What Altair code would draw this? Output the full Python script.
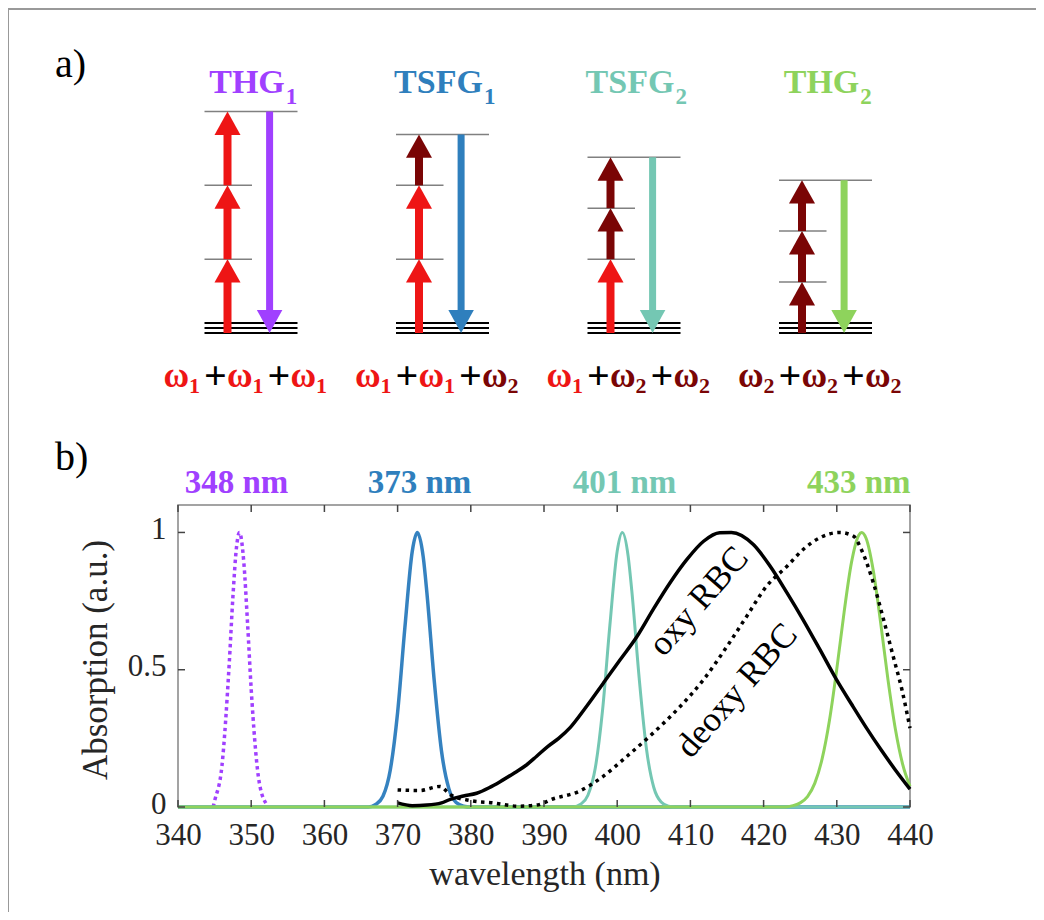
import altair as alt
import pandas as pd

SERIF = "Liberation Serif"
PURPLE = "#a040ff"
BLUE = "#2f7fbd"
TEAL = "#74c7b3"
GREEN = "#8ed35c"
RED = "#ee1515"
DARKRED = "#7a0505"
LEVELGRAY = "#808080"
TXT = "#262626"

# ---------------- panel a: energy diagrams ----------------
proc_names = ["THG", "TSFG", "TSFG", "THG"]
proc_subs = ["1", "1", "2", "2"]
proc_colors = [PURPLE, BLUE, TEAL, GREEN]
proc_photons = [["1", "1", "1"], ["1", "1", "2"], ["1", "2", "2"], ["2", "2", "2"]]
photon_energy = {"1": 1.0, "2": 0.69}
photon_color = {"1": RED, "2": DARKRED}

# ---------------- panel b: spectra ----------------
purple_wl = [344.8, 345, 346, 347, 347.5, 348, 348.4, 349, 349.5, 350, 351, 352]
purple_a = [0.0, 0.022, 0.149, 0.523, 0.765, 0.948, 1.0, 0.888, 0.67, 0.429, 0.107, 0.014]

blue_wl = [340, 366, 367, 368, 369, 370, 371, 372, 372.7, 373.5, 374, 375, 376, 377, 378, 379, 380, 440]
blue_a = [0, 0, 0.009, 0.039, 0.135, 0.344, 0.655, 0.931, 1.0, 0.911, 0.781, 0.461, 0.203, 0.067, 0.016, 0.003, 0, 0]

teal_wl = [340, 394, 395, 396, 397, 398, 399, 400, 400.7, 401.5, 402, 403, 404, 405, 406, 407, 408, 440]
teal_a = [0, 0, 0.01, 0.043, 0.141, 0.353, 0.662, 0.932, 1.0, 0.913, 0.786, 0.47, 0.211, 0.071, 0.018, 0.003, 0, 0]

green_wl = [340, 423, 424, 425, 426, 427, 428, 429, 430, 431, 432, 433, 433.4, 434, 435, 436, 437, 438, 439, 440]
green_a = [0, 0, 0.005, 0.015, 0.038, 0.087, 0.176, 0.316, 0.503, 0.71, 0.89, 0.99, 1.0, 0.979, 0.859, 0.669, 0.462, 0.284, 0.155, 0.075]

oxy_wl = [370, 372, 374, 376, 377.2, 379, 380.8, 382.5, 384, 386, 387.6, 389, 390.5, 392, 393.6, 395.8,
          398.1, 400.4, 402.7, 404.9, 407.2, 409.5, 411.8, 414, 415.6, 418.6, 420.9, 423.2, 425.4,
          427.7, 430, 432, 434, 436, 438, 440]
oxy_a = [0.015, 0.005, 0.007, 0.015, 0.028, 0.04, 0.05, 0.07, 0.092, 0.125, 0.153, 0.185, 0.22, 0.25,
         0.29, 0.366, 0.451, 0.536, 0.621, 0.719, 0.816, 0.901, 0.968, 0.999, 1.0, 0.956, 0.877, 0.78,
         0.682, 0.573, 0.462, 0.375, 0.29, 0.21, 0.135, 0.065]

deoxy_wl = [370, 373, 375.8, 377.2, 380, 383, 386.5, 389, 391.3, 394.7, 398, 401.3, 404.9, 408.6, 411.8,
            415, 417.7, 420.4, 423.2, 425.4, 427.7, 430.4, 432.3, 433.4, 435, 436.4, 437.7, 438.9, 440]
deoxy_a = [0.062, 0.06, 0.075, 0.045, 0.023, 0.015, 0.003, 0.007, 0.03, 0.056, 0.11, 0.184, 0.269, 0.366,
           0.464, 0.585, 0.695, 0.804, 0.877, 0.938, 0.981, 1.0, 0.986, 0.935, 0.816, 0.682, 0.549, 0.427, 0.287]

peak_wl = [348, 373, 401, 433]
peak_labels = ["348 nm", "373 nm", "401 nm", "433 nm"]

curve_labels = ["oxy RBC", "deoxy RBC"]
curve_label_wl = [411.1, 416.3]
curve_label_a = [0.75, 0.425]

x_ticks = [340, 350, 360, 370, 380, 390, 400, 410, 420, 430, 440]
y_ticks = [0, 0.5, 1]

# ---------------- build panel a tables ----------------
up_rows, mid_rows, top_rows, down_rows = [], [], [], []
for k, ph in enumerate(proc_photons):
    e = 0.0
    for i, p in enumerate(ph):
        lo = e
        e = e + photon_energy[p]
        up_rows.append(dict(col=k, lo=lo, hi=e, c=photon_color[p]))
        if i < 2:
            mid_rows.append(dict(col=k, level=e))
    top_rows.append(dict(col=k, level=e))
    down_rows.append(dict(col=k, lo=0.0, hi=e, c=proc_colors[k]))
up_df = pd.DataFrame(up_rows)
mid_df = pd.DataFrame(mid_rows)
top_df = pd.DataFrame(top_rows)
ground_df = pd.DataFrame(dict(col=[0, 1, 2, 3], level=[0.0] * 4))
down_df = pd.DataFrame(down_rows)
title_df = pd.DataFrame(dict(col=[0, 1, 2, 3], name=proc_names, sub=proc_subs, c=proc_colors))

XA = alt.Scale(domain=[0, 3], range=[73, 647.5], nice=False, zero=False)
YA = alt.Scale(domain=[0, 3], range=[-172, -393.5], nice=False, zero=False)
xa = alt.X("col:Q", scale=XA, axis=None)
CN = alt.Color("c:N", scale=None)

UP_PATH = "M0,-0.9L1,0.9L-1,0.9Z"
DOWN_PATH = "M0,0.9L1,-0.9L-1,-0.9Z"
UPX = -23.5
DOWNX = 18.6

layers_a = []
# level lines
layers_a.append(alt.Chart(mid_df).mark_rule(color=LEVELGRAY, strokeWidth=1.5, xOffset=-46.5, x2Offset=1)
                .encode(x=xa, x2="col:Q", y=alt.Y("level:Q", scale=YA, axis=None)))
layers_a.append(alt.Chart(top_df).mark_rule(color=LEVELGRAY, strokeWidth=1.5, xOffset=-46.5, x2Offset=46.5)
                .encode(x=xa, x2="col:Q", y=alt.Y("level:Q", scale=YA, axis=None)))
for off in [0, -5, -10]:
    layers_a.append(alt.Chart(ground_df).mark_rule(color="black", strokeWidth=2, xOffset=-46.5,
                                                   x2Offset=46.5, yOffset=off)
                    .encode(x=xa, x2="col:Q", y=alt.Y("level:Q", scale=YA, axis=None)))
# up arrows (photons)
layers_a.append(alt.Chart(up_df).mark_rule(strokeWidth=8, xOffset=UPX, y2Offset=12)
                .encode(x=xa, y=alt.Y("lo:Q", scale=YA, axis=None), y2="hi:Q", color=CN))
layers_a.append(alt.Chart(up_df).mark_point(shape=UP_PATH, size=676, filled=True, opacity=1,
                                            strokeWidth=0, xOffset=UPX, yOffset=11.7)
                .encode(x=xa, y=alt.Y("hi:Q", scale=YA, axis=None), color=CN))
# down arrows (emission)
layers_a.append(alt.Chart(down_df).mark_rule(strokeWidth=7, xOffset=DOWNX, y2Offset=-12)
                .encode(x=xa, y=alt.Y("hi:Q", scale=YA, axis=None), y2="lo:Q", color=CN))
layers_a.append(alt.Chart(down_df).mark_point(shape=DOWN_PATH, size=650, filled=True, opacity=1,
                                              strokeWidth=0, xOffset=DOWNX, yOffset=-11.5)
                .encode(x=xa, y=alt.Y("lo:Q", scale=YA, axis=None), color=CN))
# process titles
layers_a.append(alt.Chart(title_df).mark_text(font=SERIF, fontSize=34, fontWeight="bold", dx=-4,
                                              align="center", baseline="alphabetic")
                .encode(x=xa, y=alt.value(-412), text="name:N", color=CN))
TITLE_HALF_W = {"THG": 37.8, "TSFG": 44.4}
for nm, hw in TITLE_HALF_W.items():
    layers_a.append(alt.Chart(title_df[title_df.name == nm]).mark_text(
        font=SERIF, fontSize=23, fontWeight="bold", dx=-4 + hw + 1, align="left", baseline="alphabetic")
        .encode(x=xa, y=alt.value(-401), text="sub:N", color=CN))
# formulas  w_i + w_j + w_k
OMEGA_DX = [-74.7, -11.2, 52.3]
SUB_DX = [-56.5, 7.0, 70.5]
PLUS_DX = [-35.5, 28.0]
for i in range(3):
    tdf = pd.DataFrame(dict(col=[0, 1, 2, 3],
                            sub=[proc_photons[k][i] for k in range(4)],
                            c=[photon_color[proc_photons[k][i]] for k in range(4)]))
    tdf["w"] = "ω"
    layers_a.append(alt.Chart(tdf).mark_text(font=SERIF, fontSize=35, fontWeight="bold", dx=OMEGA_DX[i],
                                             align="center", baseline="alphabetic")
                    .encode(x=xa, y=alt.value(-118), text="w:N", color=CN))
    layers_a.append(alt.Chart(tdf).mark_text(font=SERIF, fontSize=22, fontWeight="bold", dx=SUB_DX[i],
                                             align="center", baseline="alphabetic")
                    .encode(x=xa, y=alt.value(-112), text="sub:N", color=CN))
    if i < 2:
        pdf = pd.DataFrame(dict(col=[0, 1, 2, 3], t=["+"] * 4))
        layers_a.append(alt.Chart(pdf).mark_text(font=SERIF, fontSize=40, fontWeight="bold", dx=PLUS_DX[i],
                                                 align="center", baseline="alphabetic", color="black")
                        .encode(x=xa, y=alt.value(-116), text="t:N"))

panel_a = alt.layer(*layers_a)

# ---------------- panel b ----------------
XB = alt.Scale(domain=[340, 440], nice=False, zero=False)
YB = alt.Scale(domain=[0, 1.1], nice=False, zero=False)
AXX = alt.Axis(values=x_ticks, title=None, ticks=False, tickSize=0, domain=False, grid=False,
               labelFont=SERIF, labelFontSize=31, labelColor=TXT, labelPadding=13, labelFlush=False)
AXY = alt.Axis(values=y_ticks, format="~g", title=None, ticks=False, tickSize=0, domain=False, grid=False,
               labelFont=SERIF, labelFontSize=31, labelColor=TXT, labelPadding=12, labelOffset=-3)
xb = alt.X("wl:Q", scale=XB, axis=AXX)
yb = alt.Y("a:Q", scale=YB, axis=AXY)


def curve(wl, a, color, width, dash=None):
    df = pd.DataFrame(dict(wl=wl, a=a))
    kw = dict(color=color, strokeWidth=width, interpolate="monotone")
    if dash:
        kw["strokeDash"] = dash
    return alt.Chart(df).mark_line(**kw).encode(x=xb, y=yb)


layers_b = [
    curve(purple_wl, purple_a, PURPLE, 3.5, [3.5, 3.5]),
    curve(blue_wl, blue_a, "#3582c0", 3.5),
    curve(teal_wl, teal_a, TEAL, 3),
    curve(green_wl, green_a, GREEN, 3),
    curve(oxy_wl, oxy_a, "black", 3.5),
    curve(deoxy_wl, deoxy_a, "black", 3.5, [3.5, 4.5]),
]

# inward ticks on all four sides
xt_df = pd.DataFrame(dict(wl=x_ticks))
yt_df = pd.DataFrame(dict(a=y_ticks))
TICKC = "#444444"
layers_b.append(alt.Chart(xt_df).mark_rule(color=TICKC, strokeWidth=1.5)
                .encode(x=xb, y=alt.value(302), y2=alt.value(295)))
layers_b.append(alt.Chart(xt_df).mark_rule(color=TICKC, strokeWidth=1.5)
                .encode(x=xb, y=alt.value(0), y2=alt.value(7)))
layers_b.append(alt.Chart(yt_df).mark_rule(color=TICKC, strokeWidth=1.5)
                .encode(y=yb, x=alt.value(0), x2=alt.value(7)))
layers_b.append(alt.Chart(yt_df).mark_rule(color=TICKC, strokeWidth=1.5)
                .encode(y=yb, x=alt.value(732), x2=alt.value(725)))

# peak wavelength labels
pk_df = pd.DataFrame(dict(wl=peak_wl, t=peak_labels, c=proc_colors))
layers_b.append(alt.Chart(pk_df).mark_text(font=SERIF, fontSize=33, fontWeight="bold", align="center",
                                           baseline="alphabetic")
                .encode(x=xb, y=alt.value(-12), text="t:N", color=CN))

# curve labels
cl_df = pd.DataFrame(dict(wl=curve_label_wl, a=curve_label_a, t=curve_labels))
layers_b.append(alt.Chart(cl_df).mark_text(font=SERIF, fontSize=35, angle=311, align="center",
                                           baseline="middle", color="black")
                .encode(x=xb, y=yb, text="t:N"))

# axis titles
ttl_df = pd.DataFrame(dict(t=["wavelength (nm)"]))
layers_b.append(alt.Chart(ttl_df).mark_text(font=SERIF, fontSize=34, align="center", baseline="alphabetic",
                                            color=TXT)
                .encode(x=alt.value(367), y=alt.value(380), text="t:N"))
ytl_df = pd.DataFrame(dict(t=["Absorption (a.u.)"]))
layers_b.append(alt.Chart(ytl_df).mark_text(font=SERIF, fontSize=35, align="center", baseline="alphabetic",
                                            angle=270, color=TXT)
                .encode(x=alt.value(-71), y=alt.value(155), text="t:N"))

# panel letters
pl_df = pd.DataFrame(dict(t=["a)"]))
layers_b.append(alt.Chart(pl_df).mark_text(font=SERIF, fontSize=40, align="left", baseline="alphabetic",
                                           color="black")
                .encode(x=alt.value(-123), y=alt.value(-428), text="t:N"))
pl2_df = pd.DataFrame(dict(t=["b)"]))
layers_b.append(alt.Chart(pl2_df).mark_text(font=SERIF, fontSize=40, align="left", baseline="alphabetic",
                                            color="black")
                .encode(x=alt.value(-123), y=alt.value(-35), text="t:N"))

# outer frame of the figure
fr_df = pd.DataFrame(dict(t=["frame"]))
layers_b.append(alt.Chart(fr_df).mark_rect(fillOpacity=0, stroke="#999999", strokeWidth=2)
                .encode(x=alt.value(-170), x2=alt.value(1300), y=alt.value(-496), y2=alt.value(1300)))

panel_b = alt.layer(*layers_b)

chart = (
    alt.layer(panel_a, panel_b)
    .resolve_scale(x="independent", y="independent")
    .properties(width=732, height=302,
                padding={"left": 170, "top": 497, "right": 126, "bottom": 105},
                autosize=alt.AutoSizeParams(type="none"))
    .configure_view(stroke="#858585", strokeWidth=1.5)
)

chart.save("out.html", embed_options={"renderer": "svg", "actions": False})
